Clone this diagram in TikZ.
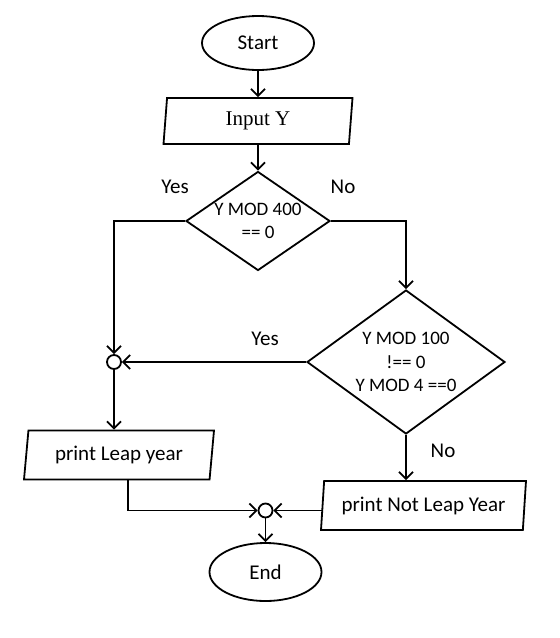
\documentclass[tikz,border=0pt]{standalone}
\usepackage{fontspec}
\setmainfont{Carlito}
\newfontfamily\serifin{Liberation Serif}
\usetikzlibrary{shapes.geometric,arrows.meta}

\begin{document}
\begin{tikzpicture}[x=0.5pt,y=-0.5pt,
  font=\fontsize{10.5}{12}\selectfont,
  line width=0.9pt,
  term/.style={draw,ellipse,inner sep=0pt,minimum width=56pt,minimum height=27pt},
  io/.style={draw,trapezium,trapezium stretches body=true,inner sep=0pt},
  decide/.style={draw,diamond,inner sep=-6pt,align=center,font=\fontsize{9.5}{11.7}\selectfont},
  joint/.style={draw,circle,fill=white,inner sep=0pt,minimum size=7pt},
  flow/.style={-{Straight Barb[length=3.5pt,width=7pt]}}]
  \useasboundingbox (0,0) rectangle (560,638);
  \node[term] (start) at (258,43) {Start};
  \node[io,trapezium left angle=79,trapezium right angle=101,
        minimum width=94.5pt,minimum height=23pt,
        font=\serifin\fontsize{10.5}{12}\selectfont] (input) at (258,121) {Input Y};
  \node[decide,minimum width=72pt,minimum height=49.5pt] (dec1) at (258,221) {Y MOD 400\\== 0};
  \node[decide,minimum width=99pt,minimum height=72pt] (dec2) at (406,362) {Y MOD 100\\!== 0\\Y MOD 4 ==0};
  \node[joint] (join1) at (114,362) {};
  \node[io,trapezium left angle=76,trapezium right angle=104,
        minimum width=95pt,minimum height=24.5pt] (leap) at (119,455) {print Leap year};
  \node[io,trapezium left angle=80,trapezium right angle=100,
        minimum width=102.5pt,minimum height=24.5pt] (notleap) at (423.5,505.5) {print Not Leap Year};
  \node[joint] (join2) at (265.5,510.5) {};
  \node[term,minimum height=29pt] (end) at (265.5,572) {End};
  \node (yes1) at (175,187) {Yes};
  \node (no1) at (343,187) {No};
  \node (yes2) at (265,339) {Yes};
  \node (no2) at (443,451) {No};
  \draw[flow] (start) -- (input);
  \draw[flow] (input) -- (dec1);
  \draw[flow] (dec1.west) -| (join1);
  \draw[flow] (dec1.east) -| (dec2);
  \draw[flow] (dec2.west) -- (join1);
  \draw[flow] (join1) -- (join1 |- leap.north);
  \draw[flow] (dec2) -- (dec2 |- notleap.north);
  \draw[flow] ([xshift=4.5pt]leap.south) |- (join2);
  \draw[flow] (join2 -| notleap.west) -- (join2);
  \draw[flow] (join2) -- (end);
\end{tikzpicture}
\end{document}
